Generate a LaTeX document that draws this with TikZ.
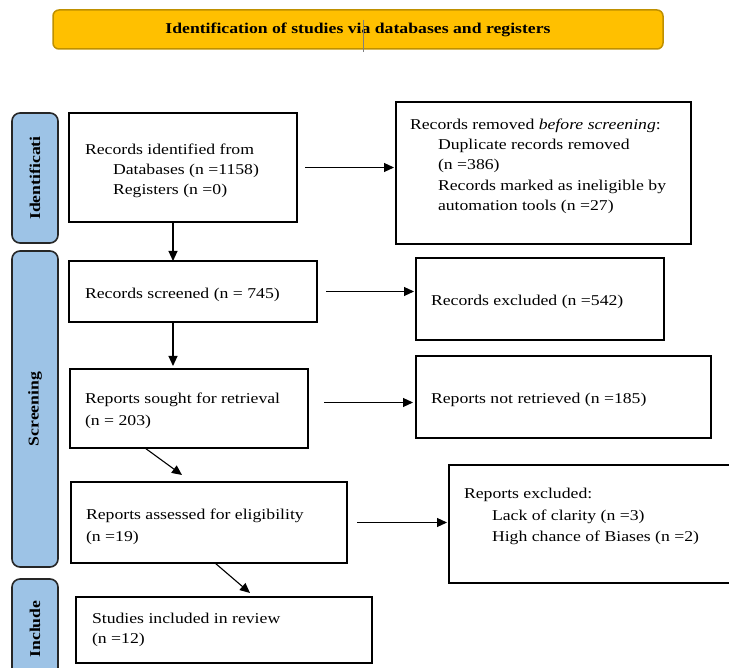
\documentclass[tikz,border=0pt]{standalone}
\usepackage{fontspec}
\setmainfont{Liberation Serif}[FakeStretch=1.18]
\usetikzlibrary{arrows.meta}
\definecolor{bannerfill}{HTML}{FFC000}
\definecolor{bannerline}{HTML}{BF9000}
\definecolor{phasefill}{HTML}{9DC3E6}
\begin{document}
\begin{tikzpicture}[x=1pt,y=-1pt,
  box/.style={draw=black, line width=1.6pt, inner sep=0pt, outer sep=0pt, anchor=north west},
  txt/.style={inner sep=0pt, outer sep=0pt, anchor=base west, font=\fontsize{15}{20}\selectfont},
  phasebar/.style={draw=black!85, fill=phasefill, line width=1.6pt, rounded corners=8pt, inner sep=0pt, outer sep=0pt, anchor=north west, minimum width=46pt},
  lbl/.style={font=\fontsize{15}{18}\selectfont\bfseries, rotate=90, inner sep=0pt},
  arr/.style={-{Triangle[length=10pt,width=9pt]}, line width=1.1pt}]
\useasboundingbox (0,0) rectangle (729,668);
\clip (0,0) rectangle (729,668);

% banner
\node[draw=bannerline, fill=bannerfill, line width=1.5pt, rounded corners=6pt,
  minimum width=610pt, minimum height=39pt, inner sep=0pt,
  font=\fontsize{15}{18}\selectfont\bfseries] (banner) at (358,29.5)
  {Identification of studies via databases and registers};
\draw[gray, line width=0.7pt] (363,20) -- (363,52);

% phase bars
\node[phasebar, minimum height=130pt] (pid) at (12,113) {};
\node[lbl] (pidl) at (35,178) {Identificati};
\node[phasebar, minimum height=316pt] (psc) at (12,251) {};
\node[lbl] (pscl) at (35,409) {Screening};
\node[phasebar, minimum height=130pt] (pin) at (12,579) {};
\node[lbl] (pinl) at (35,629) {Include};

% boxes
\node[box, minimum width=228pt, minimum height=109pt] (id) at (69,113) {};
\node[box, minimum width=295pt, minimum height=142pt] (rem) at (396,102) {};
\node[box, minimum width=248pt, minimum height=61pt] (scr) at (69,261) {};
\node[box, minimum width=248pt, minimum height=82pt] (exc) at (416,258) {};
\node[box, minimum width=238pt, minimum height=79pt] (sou) at (70,369) {};
\node[box, minimum width=295pt, minimum height=82pt] (nret) at (416,356) {};
\node[box, minimum width=276pt, minimum height=81pt] (ass) at (71,482) {};
\node[box, minimum width=300pt, minimum height=118pt] (rex) at (449,465) {};
\node[box, minimum width=296pt, minimum height=66pt] (inc) at (76,597) {};

% texts
\node[txt] (t1) at (85,155) {Records identified from};
\node[txt] (t2) at (113,175) {Databases (n =1158)};
\node[txt] (t3) at (113,195) {Registers (n =0)};

\node[txt] (t4) at (410,130) {Records removed \textit{before screening}:};
\node[txt] (t5) at (438,150) {Duplicate records removed};
\node[txt] (t6) at (438,170) {(n =386)};
\node[txt] (t7) at (438,191) {Records marked as ineligible by};
\node[txt] (t8) at (438,211) {automation tools (n =27)};

\node[txt] (t9) at (85,299) {Records screened (n = 745)};
\node[txt] (t10) at (431,306) {Records excluded (n =542)};

\node[txt] (t11) at (85,404) {Reports sought for retrieval};
\node[txt] (t12) at (85,426) {(n = 203)};
\node[txt] (t13) at (431,404) {Reports not retrieved (n =185)};

\node[txt] (t14) at (86,519) {Reports assessed for eligibility};
\node[txt] (t15) at (86,541) {(n =19)};
\node[txt] (t16) at (464,499) {Reports excluded:};
\node[txt] (t17) at (492,521) {Lack of clarity (n =3)};
\node[txt] (t18) at (492,541) {High chance of Biases (n =2)};

\node[txt] (t19) at (92,623) {Studies included in review};
\node[txt] (t20) at (92,643) {(n =12)};

% connectors
\draw[arr, shorten >=2pt] ([xshift=8pt]id.east) -- (id.east -| rem.west);
\draw[arr, shorten >=2pt] ([xshift=9pt]scr.east) -- (scr.east -| exc.west);
\draw[arr, shorten >=3pt] ([shift={(16pt,6pt)}]sou.east) -- ([yshift=6pt]sou.east -| nret.west);
\draw[arr, shorten >=2pt] ([xshift=10pt]ass.east) -- (ass.east -| rex.west);

\draw[arr] ([xshift=-10pt]id.south) -- ([xshift=-10pt]id.south |- scr.north);
\draw[arr, shorten >=3pt] ([xshift=-20pt]scr.south) -- ([xshift=-20pt]scr.south |- sou.north);
\draw[arr] ([xshift=-44pt]sou.south) -- ([shift={(-27pt,7pt)}]ass.north);
\draw[arr] ([xshift=6pt]ass.south) -- ([shift={(26pt,4pt)}]inc.north);
\end{tikzpicture}
\end{document}
